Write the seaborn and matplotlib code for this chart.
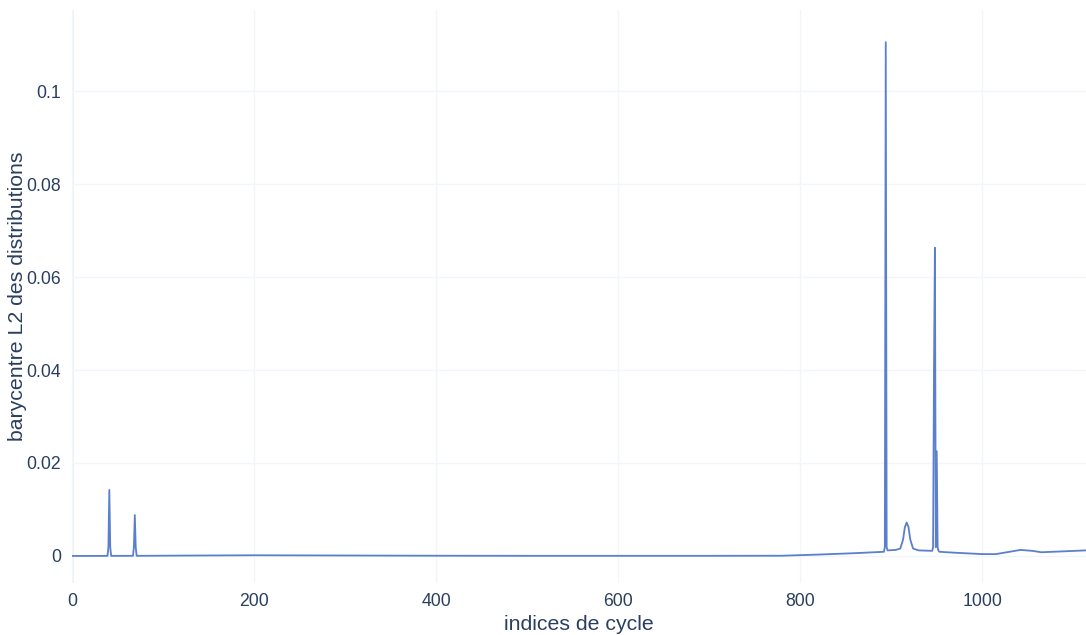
import numpy as np
import pandas as pd
import seaborn as sn
import matplotlib

matplotlib.use("Agg")
import matplotlib.pyplot as plt

# values (cycle index -> L2 barycentre)
cycle_idx = [
    0, 39, 40, 41, 42, 43, 67, 68, 69, 70, 71, 120, 200, 300, 400, 500, 600,
    700, 780, 820, 860, 892, 893, 894, 895, 896, 905, 910, 913, 915, 917, 919,
    921, 924, 930, 945, 946, 947, 948, 949, 950, 951, 952, 953, 970, 1000,
    1015, 1030, 1042, 1055, 1065, 1090, 1114,
]
barycentre_l2 = [
    0.0, 0.00002, 0.0019, 0.0142, 0.0019, 0.00002, 0.00003, 0.0019, 0.0088,
    0.0019, 0.00003, 0.00008, 0.00015, 0.0001, 0.00005, 0.00003, 0.00003,
    0.00003, 0.00005, 0.0003, 0.0006, 0.0009, 0.0019, 0.1105, 0.0019, 0.0012,
    0.0013, 0.0016, 0.0035, 0.0062, 0.0072, 0.0062, 0.0035, 0.0016, 0.0012,
    0.0011, 0.0019, 0.040, 0.0663, 0.0019, 0.0225, 0.0019, 0.0011, 0.0009,
    0.0007, 0.0004, 0.0004, 0.0009, 0.0013, 0.0011, 0.0008, 0.0010, 0.0012,
]
x_ticks = [0, 200, 400, 600, 800, 1000]
y_ticks = [0, 0.02, 0.04, 0.06, 0.08, 0.1]
y_tick_labels = ["0", "0.02", "0.04", "0.06", "0.08", "0.1"]

TEXT = "#2a3f5f"
GRID = "#f2f5fa"
LINE = "#5a7fcd"

sn.set_theme(style="white")
plt.rcParams["font.family"] = ["Liberation Sans", "DejaVu Sans"]

df = pd.DataFrame({"cycle": cycle_idx, "l2": barycentre_l2})

fig = plt.figure(figsize=(10.86, 6.35), dpi=100)
ax = fig.add_axes([0.0663, 0.082, 0.9337, 0.902])

sn.lineplot(data=df, x="cycle", y="l2", ax=ax, color=LINE, linewidth=1.3,
            estimator=None, sort=True)

ax.set_xlim(0, 1114)
ax.set_ylim(-0.0058, 0.1174)
ax.set_xticks(x_ticks)
ax.set_yticks(y_ticks)
ax.set_yticklabels(y_tick_labels)
ax.grid(True, color=GRID, linewidth=1)
ax.set_axisbelow(True)
ax.axvline(0, color="#ebf0f8", linewidth=2, zorder=0)
for s in ax.spines.values():
    s.set_visible(False)
ax.tick_params(axis="both", length=0, labelsize=12.7, colors=TEXT)
ax.tick_params(axis="x", pad=7)
ax.tick_params(axis="y", pad=8)
ax.set_xlabel("indices de cycle", fontsize=15.3, color=TEXT, labelpad=4)
ax.set_ylabel("barycentre L2 des distributions", fontsize=15.3, color=TEXT)
ax.yaxis.set_label_coords(-0.044, 0.5)

fig.savefig("out.png", dpi=100)
